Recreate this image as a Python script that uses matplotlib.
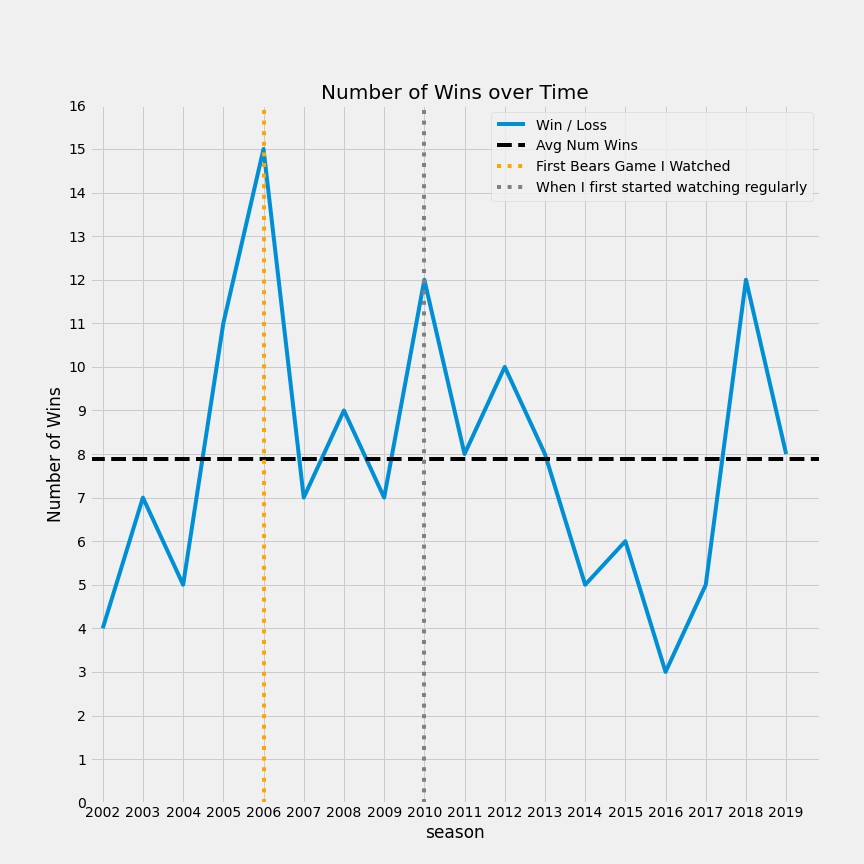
import matplotlib
matplotlib.use("Agg")
import matplotlib.pyplot as plt
import numpy as np

seasons = list(range(2002, 2020))
wins = [4, 7, 5, 11, 15, 7, 9, 7, 12, 8, 10, 8, 5, 6, 3, 5, 12, 8]
first_game = 2006
regular = 2010

plt.style.use('fivethirtyeight')
fig = plt.figure(figsize=(12, 12), dpi=72)
ax = fig.add_axes([0.104, 0.071, 0.845, 0.807])

avg = np.mean(wins)
ax.plot(seasons, wins, label='Win / Loss')
ax.axhline(avg, color='black', linestyle='--', label='Avg Num Wins')
ax.axvline(first_game, color='orange', linestyle=':', label='First Bears Game I Watched')
ax.axvline(regular, color='grey', linestyle=':', label='When I first started watching regularly')

ax.set_xlim(2001.68, 2019.84)
ax.set_ylim(0, 16)
ax.set_xticks(seasons)
ax.set_yticks(range(0, 17))
ax.tick_params(labelsize=14)
ax.set_title('Number of Wins over Time', fontsize=20)
ax.set_xlabel('season', fontsize=17)
ax.set_ylabel('Number of Wins', fontsize=17)
ax.legend(loc='upper right', fontsize=14)

fig.savefig('out.png', dpi=72)
